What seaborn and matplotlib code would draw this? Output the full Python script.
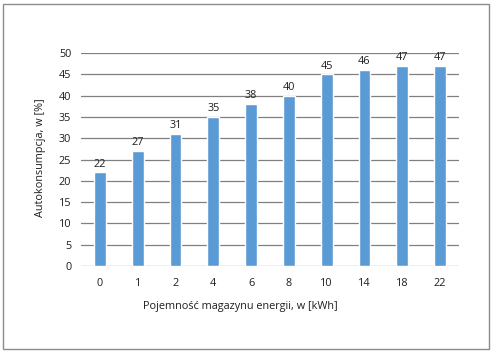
import pandas as pd
import matplotlib.pyplot as plt
import seaborn as sns
from matplotlib.patches import Rectangle

# data
capacity = ['0', '1', '2', '4', '6', '8', '10', '14', '18', '22']
autoconsumption = [22, 27, 31, 35, 38, 40, 45, 46, 47, 47]

df = pd.DataFrame({'capacity': capacity, 'auto': autoconsumption})

sns.set_style('white')
plt.rcParams['font.family'] = ['Open Sans', 'DejaVu Sans']

fig = plt.figure(figsize=(4.92, 3.52), dpi=100)
ax = fig.add_axes([81 / 492, 1 - 266 / 352, 378 / 492, 213 / 352])

sns.barplot(data=df, x='capacity', y='auto', order=capacity, color='#5b9bd5',
            saturation=1, width=0.31, ax=ax, zorder=3)

ax.bar_label(ax.containers[0], fontsize=7.8, color='#1e1e1e', padding=2)

ax.set_ylim(0, 50)
ax.set_xlim(-0.5, len(capacity) - 0.5)
ax.set_yticks(range(0, 51, 5))
ax.yaxis.grid(True, color='#808080', linewidth=0.9, zorder=0)
ax.set_axisbelow(True)
for s in ax.spines.values():
    s.set_visible(False)
ax.tick_params(axis='both', length=0, labelsize=7.8, labelcolor='#1e1e1e')
ax.tick_params(axis='x', pad=9)
ax.tick_params(axis='y', pad=7)
ax.set_xlabel('')
ax.set_ylabel('')

fig.text(240 / 492, 1 - 307 / 352, 'Pojemność magazynu energii, w [kWh]',
         ha='center', va='center', fontsize=7.8, color='#1e1e1e')
fig.text(40 / 492, 1 - 158 / 352, 'Autokonsumpcja, w [%]', rotation=90,
         ha='center', va='center', fontsize=7.8, color='#1e1e1e')

# outer frame
fig.patches.append(Rectangle((3 / 492, 3 / 352), 486 / 492, 345 / 352,
                             transform=fig.transFigure, fill=False,
                             edgecolor='#8c8c8c', linewidth=1))

fig.savefig('out.png', dpi=100)
